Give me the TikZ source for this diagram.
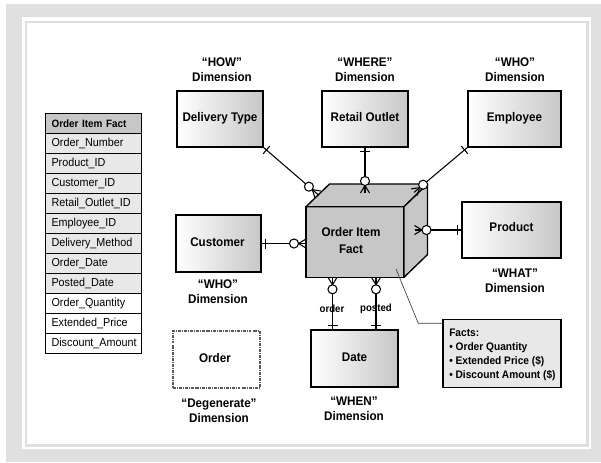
\documentclass[tikz,border=0pt]{standalone}
\usepackage{fontspec}
\setmainfont{Liberation Sans}[FakeStretch=0.93]
\usetikzlibrary{calc,fit}

% one-to-many link: bar near #1, circle and crow's foot at #2
\newcommand\erlink[2]{%
  \draw[conn] (#1) -- (#2);
  \coordinate (tkpt) at ($(#1)!3.4pt!(#2)$);
  \draw[conn] ($(tkpt)!3.75pt!90:(#2)$) -- ($(tkpt)!3.75pt!-90:(#2)$);
  \coordinate (fkpt) at ($(#2)!5.6pt!(#1)$);
  \draw[conn] (fkpt) -- ($(#2)!3.4pt!90:(#1)$) (fkpt) -- ($(#2)!3.4pt!-90:(#1)$);
  \draw[conn, fill=white] ($(#2)!9pt!(#1)$) circle (3.4pt);
}

\begin{document}
\begin{tikzpicture}[x=0.75pt,y=-0.75pt,
  conn/.style={line width=0.8pt, draw=black},
  bold/.style={font=\fontsize{9.4pt}{11.25pt}\selectfont\bfseries},
  boxlabel/.style={bold, anchor=base, inner sep=0pt},
  dimbox/.style={draw=black, line width=1pt, inner sep=0pt, outer sep=0pt,
    left color=white, right color=black!22},
  dimlabel/.style={bold, align=center, inner sep=0pt},
  tabcell/.style={anchor=north west, draw=black, line width=0.8pt,
    minimum width=72pt, minimum height=15pt, text width=63pt,
    inner xsep=4.5pt, inner ysep=0pt, align=left,
    font=\fontsize{8.7pt}{10pt}\selectfont},
  cubeface/.style={draw=black, line width=1pt, fill=black!22, line join=round},
  factbox/.style={draw=black, line width=0.8pt, fill=black!9, inner sep=0pt, outer sep=0pt},
  facttext/.style={anchor=north west, inner sep=0pt, align=left,
    font=\fontsize{8.2pt}{10.5pt}\selectfont\bfseries},
  linklabel/.style={inner sep=0pt, font=\fontsize{7.8pt}{9pt}\selectfont\bfseries},
  callout/.style={line width=0.5pt, draw=black!75}
]
\useasboundingbox (0,0) rectangle (601,462);

% frame
\fill[white] (0,0) rectangle (601,462);
\fill[black!12] (6,4) rectangle (601,462);
\fill[white] (22,17) rectangle (591,449);
\draw[black!13, line width=1.8pt] (26,22) rectangle (587.5,445.5);

% table of fact columns
\node[tabcell, fill=black!22, font=\fontsize{8pt}{10pt}\selectfont\bfseries] (th) at (45,113) {Order Item Fact};
\foreach \txt/\f [count=\i from 0] in {Order\_Number/black!9, Product\_ID/black!9,
    Customer\_ID/black!9, Retail\_Outlet\_ID/black!9, Employee\_ID/black!9,
    Delivery\_Method/black!9, Order\_Date/black!9, Posted\_Date/black!9,
    Order\_Quantity/white, Extended\_Price/white, Discount\_Amount/white}
  \node[tabcell, fill=\f] (tr\i) at ({45},{133+20*\i}) {\txt};

% dimension boxes
\node[dimbox, fit={(177,91) (263,147)}] (dt) {};
\node[dimbox, fit={(322,91) (408,147)}] (ro) {};
\node[dimbox, fit={(468,91) (561,147)}] (em) {};
\node[dimbox, fit={(462,202) (561,258)}] (pr) {};
\node[dimbox, fit={(176,215) (261,272)}] (cu) {};
\node[dimbox, fit={(311,330) (398,387)}] (da) {};
\node[draw=black!65, line width=0.9pt, inner sep=0pt, outer sep=0pt,
  dash pattern=on 2.2pt off 0.8pt on 0.6pt off 0.8pt, fit={(173,331) (260,388)}] (od) {};

\node[boxlabel] (dtl) at ($(dt.center)+(0,2.3)$) {Delivery Type};
\node[boxlabel] (rol) at ($(ro.center)+(0,2.3)$) {Retail Outlet};
\node[boxlabel] (eml) at ($(em.center)+(0,2.3)$) {Employee};
\node[boxlabel] (prl) at ($(pr.center)+(0,1)$) {Product};
\node[boxlabel] (cul) at ($(cu.center)+(-1,2.7)$) {Customer};
\node[boxlabel] (dal) at ($(da.center)+(0,2.7)$) {Date};
\node[boxlabel] (odl) at ($(od.center)+(-1.5,2.7)$) {Order};

% dimension captions
\node[dimlabel] (lhow) at (222,69.5) {“HOW”\\Dimension};
\node[dimlabel] (lwhere) at (365,69.5) {“WHERE”\\Dimension};
\node[dimlabel] (lwho) at (515,69.5) {“WHO”\\Dimension};
\node[dimlabel] (lwho2) at (218,292) {“WHO”\\Dimension};
\node[dimlabel] (lwhat) at (515,281) {“WHAT”\\Dimension};
\node[dimlabel] (lwhen) at (354,409) {“WHEN”\\Dimension};
\node[dimlabel] (ldeg) at (219,411) {“Degenerate”\\Dimension};

% the fact cube
\node[draw=black, line width=1pt, fill=black!22, inner sep=0pt, outer sep=0pt,
  fit={(306,206.7) (404,277.3)}] (cube) {};
\node[dimlabel] (cubetext) at (351,240.5) {Order Item\\[1pt]Fact};
\draw[cubeface] (cube.north west) -- ++(23.5,-22.7) -- ($(cube.north east)+(23.5,-22.7)$)
  -- (cube.north east) -- cycle;
\draw[cubeface] (cube.north east) -- ++(23.5,-22.7) -- ($(cube.south east)+(23.5,-22.7)$)
  -- (cube.south east) -- cycle;

% connector ends on the cube
\coordinate (eDT) at (318,194.5);
\coordinate (eRO) at (365,193);
\coordinate (eEM) at (414,192.4);
\coordinate (ePR) at (pr.west -| 414.5,0);
\coordinate (eCU) at (cube.west |- cu.east);
\coordinate (dO) at ($(da.north)+(-22,0)$);
\coordinate (dP) at ($(da.north)+(21.5,0)$);
\coordinate (cO) at (dO |- cube.south);
\coordinate (cP) at (dP |- cube.south);

\erlink{dt.south east}{eDT}
\erlink{ro.south}{eRO}
\erlink{em.south west}{eEM}
\erlink{pr.west}{ePR}
\erlink{cu.east}{eCU}
\erlink{dO}{cO}
\erlink{dP}{cP}

\node[linklabel] (lord) at (332,308.5) {order};
\node[linklabel] (lpost) at (376,308.5) {posted};

% facts note
\node[factbox, fit={(443,319.3) (561,387.7)}] (fb) {};
\node[facttext] (fbtext) at (449,328.5)
  {Facts:\\• Order Quantity\\• Extended Price (\$)\\• Discount Amount (\$)};
\coordinate (cpA) at (396,269);
\coordinate (cpB) at (418.3,323.3);
\draw[callout] (cpA) -- (cpB) -- (cpB -| fb.west);
\end{tikzpicture}
\end{document}
